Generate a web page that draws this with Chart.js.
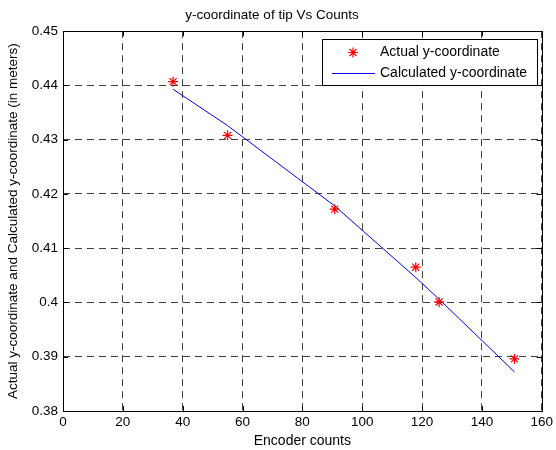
<!DOCTYPE html>
<html>
<head>
<meta charset="utf-8">
<script src="https://cdn.jsdelivr.net/npm/chart.js@4.4.1/dist/chart.umd.min.js"></script>
<style>
html,body{margin:0;padding:0;background:#fff;}
#c{display:block;}
</style>
</head>
<body>
<canvas id="c" width="556" height="450"></canvas>
<script>
// Data
const encoderCounts = [36.8, 55.0, 90.8, 117.9, 125.7, 150.9];
const actualY = [0.4407, 0.4308, 0.4172, 0.4065, 0.4001, 0.3896];
const calculatedY = [0.4393, 0.4326, 0.4178, 0.4046, 0.4006, 0.3872];
const xTicks = [0, 20, 40, 60, 80, 100, 120, 140, 160];
const yTicks = [0.38, 0.39, 0.40, 0.41, 0.42, 0.43, 0.44, 0.45];
const seriesLabels = ['Actual y-coordinate', 'Calculated y-coordinate'];
const titleText = 'y-coordinate of tip Vs Counts';
const xTitle = 'Encoder counts';
const yTitle = 'Actual y-coordinate and Calculated y-coordinate (in meters)';

const FONT = 'Arial, "Liberation Sans", Helvetica, sans-serif';

const framePlugin = {
  id: 'frame',
  afterDraw(chart) {
    const {ctx, chartArea: a, scales} = chart;
    ctx.save();
    ctx.strokeStyle = '#000';
    ctx.lineWidth = 1;
    ctx.setLineDash([]);
    ctx.strokeRect(Math.round(a.left) + 0.5, Math.round(a.top) + 0.5,
                   Math.round(a.right - a.left), Math.round(a.bottom - a.top));
    // inward ticks
    const tl = 5;
    ctx.beginPath();
    scales.x.ticks.forEach(t => {
      const px = Math.round(scales.x.getPixelForValue(t.value)) + 0.5;
      ctx.moveTo(px, a.bottom); ctx.lineTo(px, a.bottom - tl);
      ctx.moveTo(px, a.top); ctx.lineTo(px, a.top + tl);
    });
    scales.y.ticks.forEach(t => {
      const py = Math.round(scales.y.getPixelForValue(t.value)) + 0.5;
      ctx.moveTo(a.left, py); ctx.lineTo(a.left + tl, py);
      ctx.moveTo(a.right, py); ctx.lineTo(a.right - tl, py);
    });
    ctx.stroke();
    ctx.restore();
  },
  afterDatasetsDraw(chart) {
    // legend box (MATLAB-style, inside plot)
    const {ctx} = chart;
    const bx = 322, by = 39, bw = 215, bh = 46;
    ctx.save();
    ctx.fillStyle = '#fff';
    ctx.fillRect(bx, by, bw, bh);
    ctx.strokeStyle = '#000';
    ctx.lineWidth = 1;
    ctx.setLineDash([]);
    ctx.strokeRect(bx + 0.5, by + 0.5, bw, bh);
    // entry 1: star marker
    const ds0 = chart.data.datasets[0];
    ctx.strokeStyle = ds0.borderColor;
    ctx.lineWidth = 1.2;
    ctx.beginPath();
    const r = 5, cx = 353, cy = 52.5;
    ctx.moveTo(cx - r, cy); ctx.lineTo(cx + r, cy);
    ctx.moveTo(cx, cy - r); ctx.lineTo(cx, cy + r);
    ctx.moveTo(cx - r * 0.7, cy - r * 0.7); ctx.lineTo(cx + r * 0.7, cy + r * 0.7);
    ctx.moveTo(cx - r * 0.7, cy + r * 0.7); ctx.lineTo(cx + r * 0.7, cy - r * 0.7);
    ctx.stroke();
    // entry 2: line
    const ds1 = chart.data.datasets[1];
    ctx.strokeStyle = ds1.borderColor;
    ctx.lineWidth = 1;
    ctx.beginPath();
    ctx.moveTo(332, 73.5); ctx.lineTo(375, 73.5);
    ctx.stroke();
    ctx.fillStyle = '#000';
    ctx.font = '14px ' + FONT;
    ctx.textBaseline = 'middle';
    ctx.textAlign = 'left';
    ctx.fillText(ds0.label, 380, 52);
    ctx.fillText(ds1.label, 380, 73);
    ctx.restore();
  }
};

new Chart(document.getElementById('c'), {
  type: 'scatter',
  data: {
    datasets: [
      {
        label: seriesLabels[0],
        data: encoderCounts.map((x, i) => ({x, y: actualY[i]})),
        showLine: false,
        pointStyle: 'star',
        pointRadius: 5,
        pointBorderWidth: 1.2,
        borderColor: '#ff0000',
        backgroundColor: '#ff0000'
      },
      {
        label: seriesLabels[1],
        data: encoderCounts.map((x, i) => ({x, y: calculatedY[i]})),
        showLine: true,
        pointRadius: 0,
        borderWidth: 1,
        borderColor: '#0000ff',
        tension: 0
      }
    ]
  },
  options: {
    responsive: false,
    animation: false,
    events: [],
    layout: {padding: {left: 0, right: 12, top: 0, bottom: 0}},
    plugins: {
      legend: {display: false},
      tooltip: {enabled: false},
      title: {
        display: true,
        text: titleText,
        color: '#000',
        font: {family: FONT, size: 13.5, weight: 'normal'},
        padding: {top: 7, bottom: 8}
      }
    },
    scales: {
      x: {
        type: 'linear',
        min: 0, max: 160,
        afterBuildTicks: s => { s.ticks = xTicks.map(v => ({value: v})); },
        afterFit: s => { s.height = 39; },
        ticks: {color: '#000', font: {family: FONT, size: 13.5}, padding: 3, maxRotation: 0},
        grid: {color: 'rgba(0,0,0,0.75)', lineWidth: 1, drawTicks: false},
        border: {display: false, dash: [7, 5]},
        title: {display: true, text: xTitle, color: '#000', font: {family: FONT, size: 14}, padding: {top: 2, bottom: 0}}
      },
      y: {
        type: 'linear',
        min: 0.38, max: 0.45,
        afterBuildTicks: s => { s.ticks = yTicks.map(v => ({value: v})); },
        afterFit: s => { s.width = 63; },
        ticks: {color: '#000', font: {family: FONT, size: 13.5}, padding: 5,
                callback: v => String(Math.round(v * 100) / 100)},
        grid: {color: 'rgba(0,0,0,0.75)', lineWidth: 1, drawTicks: false},
        border: {display: false, dash: [7, 5]},
        title: {display: true, text: yTitle, color: '#000', font: {family: FONT, size: 13.5}, padding: {top: 5, bottom: 2}}
      }
    }
  },
  plugins: [framePlugin]
});
</script>
</body>
</html>
